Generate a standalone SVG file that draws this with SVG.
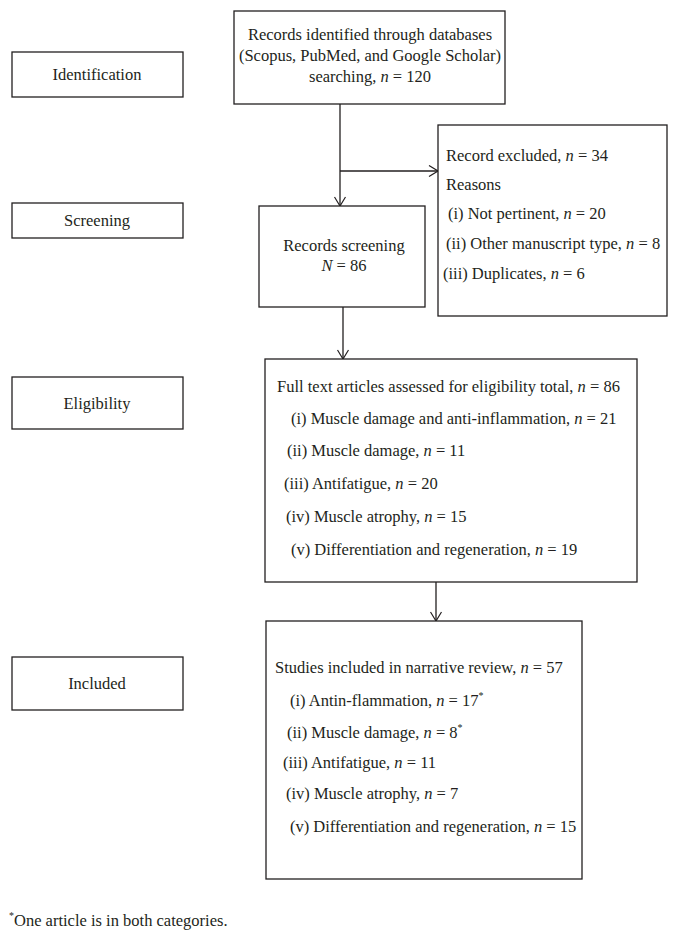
<svg xmlns="http://www.w3.org/2000/svg" width="678" height="938" viewBox="0 0 678 938">
<defs>
<style>
.box{fill:#fff;stroke:#231f20;stroke-width:1.3}
.t{font-family:"Liberation Serif","Times New Roman",serif;font-size:16.5px;fill:#231f20}
.c{text-anchor:middle}
.conn{stroke:#231f20;stroke-width:1.3;fill:none}
</style>
<marker id="arr" viewBox="0 0 10 12" refX="10" refY="6" markerWidth="10" markerHeight="12" markerUnits="userSpaceOnUse" orient="auto">
<path d="M1,0.5 L10,6 L1,11.5" fill="none" stroke="#231f20" stroke-width="1.2"/>
</marker>
</defs>
<rect width="678" height="938" fill="#fff"/>
<g id="connectors">
<line class="conn" x1="340" y1="104" x2="340" y2="206" marker-end="url(#arr)"/>
<line class="conn" x1="340" y1="171" x2="438" y2="171" marker-end="url(#arr)"/>
<line class="conn" x1="343" y1="307" x2="343" y2="359" marker-end="url(#arr)"/>
<line class="conn" x1="436" y1="582" x2="436" y2="621" marker-end="url(#arr)"/>
</g>
<g id="identification">
<rect class="box" x="12" y="52" width="171" height="45"/>
<text class="t c" x="97" y="80">Identification</text>
</g>
<g id="screening">
<rect class="box" x="12" y="203" width="171" height="35"/>
<text class="t c" x="97" y="226">Screening</text>
</g>
<g id="eligibility">
<rect class="box" x="12" y="377" width="171" height="52"/>
<text class="t c" x="97" y="409">Eligibility</text>
</g>
<g id="included">
<rect class="box" x="12" y="657" width="171" height="53"/>
<text class="t c" x="97" y="689">Included</text>
</g>
<g id="records-identified">
<rect class="box" x="234" y="11" width="271" height="93"/>
<text class="t c" x="370" y="40">Records identified through databases</text>
<text class="t c" x="370" y="61">(Scopus, PubMed, and Google Scholar)</text>
<text class="t c" x="370" y="82">searching, <tspan font-style="italic">n</tspan> = 120</text>
</g>
<g id="records-screening">
<rect class="box" x="259" y="206" width="166" height="101"/>
<text class="t c" x="344" y="251">Records screening</text>
<text class="t c" x="344" y="271"><tspan font-style="italic">N</tspan> = 86</text>
</g>
<g id="excluded">
<rect class="box" x="438" y="125" width="229" height="191"/>
<text class="t" x="446" y="161">Record excluded, <tspan font-style="italic">n</tspan> = 34</text>
<text class="t" x="446" y="190">Reasons</text>
<text class="t" x="448" y="219">(i) Not pertinent, <tspan font-style="italic">n</tspan> = 20</text>
<text class="t" x="446" y="249">(ii) Other manuscript type, <tspan font-style="italic">n</tspan> = 8</text>
<text class="t" x="443" y="279">(iii) Duplicates, <tspan font-style="italic">n</tspan> = 6</text>
</g>
<g id="full-text">
<rect class="box" x="265" y="359" width="372" height="223"/>
<text class="t" x="277" y="392">Full text articles assessed for eligibility total, <tspan font-style="italic">n</tspan> = 86</text>
<text class="t" x="291" y="424">(i) Muscle damage and anti-inflammation, <tspan font-style="italic">n</tspan> = 21</text>
<text class="t" x="287" y="456">(ii) Muscle damage, <tspan font-style="italic">n</tspan> = 11</text>
<text class="t" x="284" y="489">(iii) Antifatigue, <tspan font-style="italic">n</tspan> = 20</text>
<text class="t" x="286" y="522">(iv) Muscle atrophy, <tspan font-style="italic">n</tspan> = 15</text>
<text class="t" x="291" y="555">(v) Differentiation and regeneration, <tspan font-style="italic">n</tspan> = 19</text>
</g>
<g id="studies-included">
<rect class="box" x="266" y="621" width="316" height="258"/>
<text class="t" x="275" y="673">Studies included in narrative review, <tspan font-style="italic">n</tspan> = 57</text>
<text class="t" x="290" y="706">(i) Antin-flammation, <tspan font-style="italic">n</tspan> = 17<tspan font-size="10" dy="-7">*</tspan></text>
<text class="t" x="287" y="738">(ii) Muscle damage, <tspan font-style="italic">n</tspan> = 8<tspan font-size="10" dy="-7">*</tspan></text>
<text class="t" x="283" y="768">(iii) Antifatigue, <tspan font-style="italic">n</tspan> = 11</text>
<text class="t" x="286" y="799">(iv) Muscle atrophy, <tspan font-style="italic">n</tspan> = 7</text>
<text class="t" x="290" y="832">(v) Differentiation and regeneration, <tspan font-style="italic">n</tspan> = 15</text>
</g>
<g id="footnote">
<text class="t" x="9" y="926"><tspan font-size="10" dy="-7">*</tspan><tspan dy="7">One article is in both categories.</tspan></text>
</g>
</svg>
